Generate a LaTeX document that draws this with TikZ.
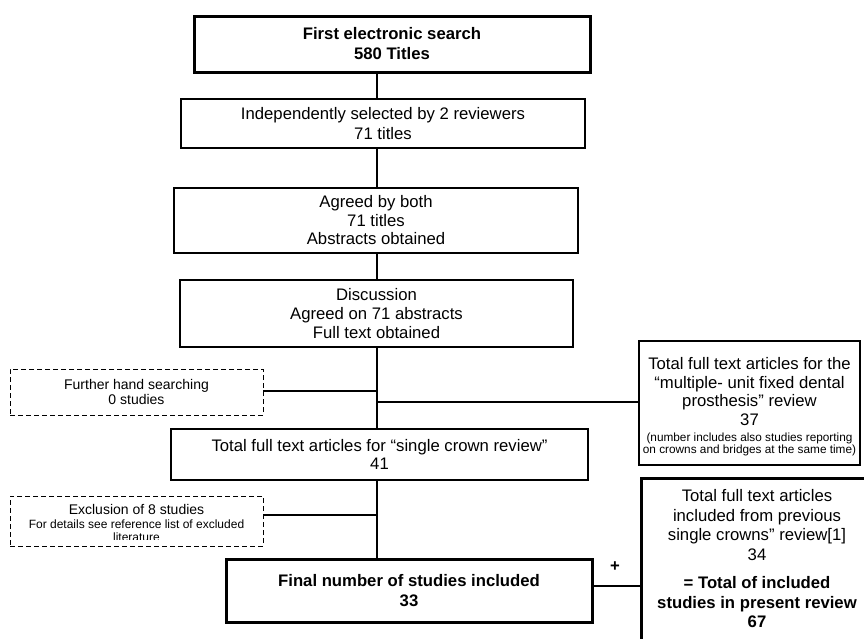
\documentclass[tikz,border=0pt]{standalone}
\usepackage{fontspec}
\setmainfont{Liberation Sans}
\begin{document}
\begin{tikzpicture}[x=1pt,y=-1pt,
 box/.style={draw, line width=1.1pt, inner sep=0pt, align=center, font=\fontsize{16.7}{19}\selectfont},
 thickbox/.style={box, line width=3pt, font=\fontsize{16.7}{20}\selectfont\bfseries},
 dbox/.style={draw, line width=0.9pt, dash pattern=on 5pt off 3pt, inner sep=0pt, align=center, font=\fontsize{14}{15}\selectfont},
 conn/.style={line width=2pt}]
\clip (0,0) rectangle (864,638);
\coordinate (t) at (377,0);

\node[thickbox, minimum width=396pt, minimum height=56pt] (b1) at (392,44) {First electronic search\\580 Titles};
\node[box, minimum width=404pt, minimum height=49pt, font=\fontsize{16.7}{20}\selectfont] (b2) at (383,123.5) {Independently selected by 2 reviewers\\71 titles};
\node[box, minimum width=404pt, minimum height=65pt, font=\fontsize{16.7}{18.5}\selectfont] (b3) at (376,220.5) {Agreed by both\\71 titles\\Abstracts obtained};
\node[box, minimum width=393pt, minimum height=67pt] (b4) at (376.5,313.5) {Discussion\\Agreed on 71 abstracts\\Full text obtained};
\node[box, minimum width=417pt, minimum height=51pt, font=\fontsize{16.7}{18}\selectfont] (b5) at (379.5,454.5) {Total full text articles for \textquotedblleft single crown review\textquotedblright\\41};
\node[thickbox, minimum width=366pt, minimum height=63pt] (fin) at (409,591) {Final number of studies included\\33};

\node[draw, line width=1.1pt, minimum width=221pt, minimum height=124pt, inner sep=0pt] (rb) at (749.5,403) {};
\node[align=center, inner sep=0pt, font=\fontsize{16.7}{18.7}\selectfont] (rbt) at (749.5,406.5) {Total full text articles for the\\\textquotedblleft multiple- unit fixed dental\\prosthesis\textquotedblright{} review\\37\\[-3pt]{\fontsize{11.8}{12}\selectfont (number includes also studies reporting}\\[-6.7pt]{\fontsize{11.8}{12}\selectfont on crowns and bridges at the same time)}};

\node[draw, line width=3pt, minimum width=260pt, minimum height=230pt, inner sep=0pt] (tb) at (771,593) {};
\node[align=center, inner sep=0pt, font=\fontsize{16.7}{19.5}\selectfont] (tbt) at (757,559) {Total full text articles\\included from previous\\single crowns\textquotedblright{} review[1]\\34\\[9pt]\textbf{= Total of included}\\\textbf{studies in present review}\\\textbf{67}};

\node[dbox, minimum width=253pt, minimum height=46pt] (d1) at (136.5,392) {Further hand searching\\0 studies};
\node[dbox, minimum width=253pt, minimum height=50pt] (d2) at (136.5,521) {};
\begin{scope}
\clip (10,496) rectangle (263,539.5);
\node[align=center, inner sep=0pt, font=\fontsize{14}{15}\selectfont] (d2t) at (136.5,523) {Exclusion of 8 studies\\[-1pt]{\fontsize{12}{12}\selectfont For details see reference list of excluded}\\[-2pt]{\fontsize{12}{12}\selectfont literature}};
\end{scope}

\draw[conn] (b1.south -| t) -- (b2.north -| t);
\draw[conn] (b2.south -| t) -- (b3.north -| t);
\draw[conn] (b3.south -| t) -- (b4.north -| t);
\draw[conn] (b4.south -| t) -- (b5.north -| t);
\draw[conn] (b5.south -| t) -- (fin.north -| t);
\coordinate (jl1) at (377,391);
\coordinate (jr) at (377,402);
\coordinate (jl2) at (377,515);
\draw[conn] (d1.east |- jl1) -- (jl1);
\draw[conn] (jr) -- (rb.west |- jr);
\draw[conn] (d2.east |- jl2) -- (jl2);
\coordinate (jf) at (600,586);
\draw[conn] (fin.east |- jf) -- (tb.west |- jf);
\node[font=\fontsize{16.7}{20}\selectfont\bfseries, inner sep=0pt] (plus) at (615,567) {+};
\end{tikzpicture}
\end{document}
